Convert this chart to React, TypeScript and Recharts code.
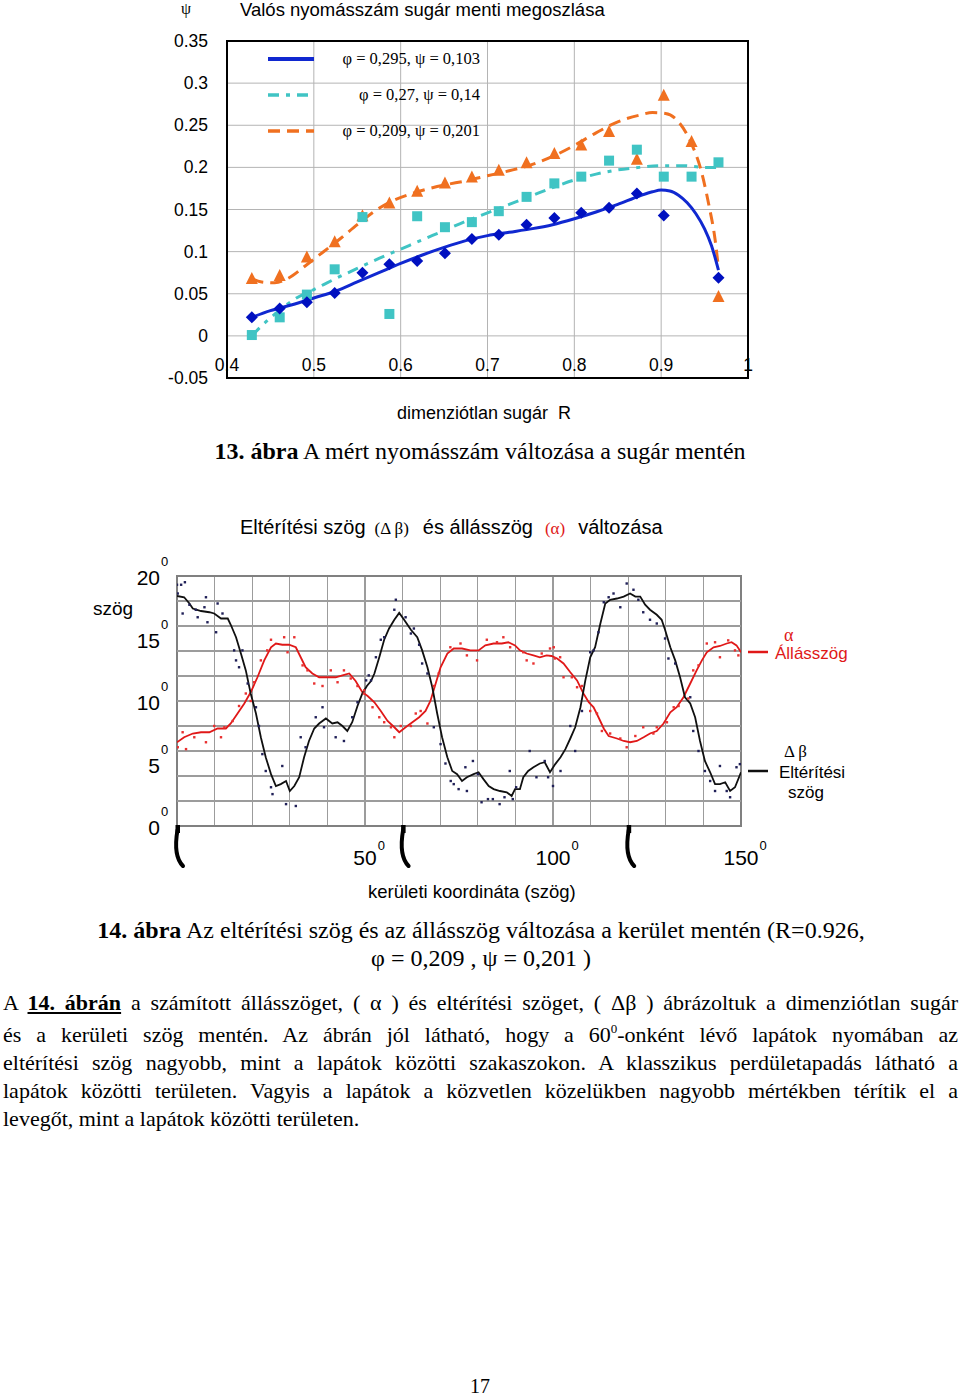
import React from 'react';
import {
  ComposedChart,
  Line,
  Scatter,
  XAxis,
  YAxis,
  CartesianGrid,
  ReferenceArea,
  ReferenceDot,
  ReferenceLine,
} from 'recharts';

const SANS = '"Liberation Sans", Arial, sans-serif';
const SERIF = '"Liberation Serif", "Times New Roman", serif';

// ================= Figure 13 data =================
const radiusPoints = [0.4286, 0.4607, 0.492, 0.524, 0.556, 0.587, 0.619, 0.651, 0.682, 0.713, 0.745, 0.777, 0.808, 0.84, 0.872, 0.903, 0.935, 0.966];
const psiMeasuredBlue = [0.022, 0.0325, 0.04, 0.051, 0.075, 0.085, 0.089, 0.098, 0.115, 0.12, 0.132, 0.14, 0.146, 0.152, 0.169, 0.143, null, 0.069];
const psiMeasuredTeal = [0.001, 0.022, 0.049, 0.079, 0.141, 0.026, 0.142, 0.129, 0.135, 0.148, 0.165, 0.181, 0.189, 0.208, 0.221, 0.189, 0.189, 0.206];
const psiMeasuredOrange = [0.0675, 0.071, 0.093, 0.111, 0.142, 0.157, 0.171, 0.181, 0.188, 0.196, 0.205, 0.216, 0.226, 0.242, 0.209, 0.285, 0.23, 0.046];

const blueTrendR = [0.4286, 0.45, 0.475, 0.5, 0.525, 0.55, 0.575, 0.6, 0.625, 0.65, 0.675, 0.7, 0.725, 0.75, 0.775, 0.8, 0.825, 0.85, 0.875, 0.89, 0.9, 0.91, 0.92, 0.93, 0.94, 0.95, 0.958, 0.966];
const blueTrendPsi = [0.022, 0.03, 0.037, 0.045, 0.053, 0.064, 0.075, 0.086, 0.096, 0.105, 0.113, 0.119, 0.123, 0.127, 0.132, 0.139, 0.147, 0.156, 0.166, 0.171, 0.173, 0.172, 0.167, 0.158, 0.145, 0.127, 0.107, 0.078];

const tealTrendR = [0.4286, 0.44, 0.46, 0.48, 0.5, 0.525, 0.55, 0.575, 0.6, 0.625, 0.65, 0.675, 0.7, 0.725, 0.75, 0.775, 0.8, 0.825, 0.85, 0.875, 0.9, 0.925, 0.95, 0.966];
const tealTrendPsi = [0.0, 0.012, 0.03, 0.045, 0.055, 0.068, 0.08, 0.092, 0.103, 0.114, 0.125, 0.136, 0.146, 0.156, 0.166, 0.176, 0.185, 0.192, 0.197, 0.2, 0.202, 0.202, 0.2, 0.2];

const orangeTrendR = [0.4286, 0.44, 0.455, 0.47, 0.49, 0.51, 0.53, 0.55, 0.57, 0.59, 0.61, 0.63, 0.65, 0.675, 0.7, 0.725, 0.75, 0.775, 0.8, 0.825, 0.85, 0.875, 0.89, 0.905, 0.92, 0.935, 0.945, 0.955, 0.962, 0.966];
const orangeTrendPsi = [0.068, 0.064, 0.063, 0.068, 0.083, 0.099, 0.115, 0.132, 0.148, 0.16, 0.168, 0.174, 0.179, 0.184, 0.19, 0.196, 0.203, 0.213, 0.226, 0.241, 0.254, 0.262, 0.265, 0.264, 0.254, 0.228, 0.2, 0.155, 0.115, 0.08];

const radiusTicks = [0.4, 0.5, 0.6, 0.7, 0.8, 0.9, 1.0];
const radiusTickLabels = ['0.4', '0.5', '0.6', '0.7', '0.8', '0.9', '1'];
const psiTicks = [-0.05, 0, 0.05, 0.1, 0.15, 0.2, 0.25, 0.3, 0.35];
const psiTickLabels = ['-0.05', '0', '0.05', '0.1', '0.15', '0.2', '0.25', '0.3', '0.35'];

const legendLabels13 = ['φ = 0,295, ψ = 0,103', 'φ = 0,27, ψ = 0,14', 'φ = 0,209, ψ = 0,201'];

// ================= Figure 14 data =================
const betaAngles = [0, 1.9, 3.3, 4.2, 6.4, 8.6, 9.9, 11.7, 13.5, 14.3, 15.7, 17, 18.3, 19.6, 21, 22.3, 23.6, 25, 26.3, 27.6, 29, 30, 31.2, 32.5, 33.8, 35.1, 36.5, 37.8, 39.6, 41.3, 42.7, 44, 45.3, 46.6, 48, 49.3, 50.5, 51.6, 52.5, 53.8, 55.1, 56.4, 57.8, 59.1, 60.4, 62.2, 63.9, 65.2, 66.6, 67.9, 69.2, 70.5, 71.9, 73.2, 74.5, 75.8, 77.1, 78.9, 80.2, 81.5, 82.9, 84.2, 85.9, 87.7, 89, 89.9, 91.2, 92.1, 93.4, 94.8, 96.5, 97.8, 99.2, 100.6, 102, 103.3, 104.6, 105.9, 107.3, 108.6, 109.9, 111.2, 112.6, 113.9, 115.2, 117, 118.8, 120.5, 121.9, 123.2, 124.5, 125.8, 127.6, 128.9, 129.8, 131.2, 132.5, 133.8, 135.1, 136.5, 137.8, 139.1, 140.4, 141.8, 143.1, 144.4, 145.8, 147.1, 148.4, 150];
const betaValues = [18.4, 18.3, 17.8, 17.4, 17.2, 17.1, 17.0, 16.6, 16.6, 16.1, 15.1, 13.8, 12.45, 10.6, 9.0, 7.1, 5.5, 4.15, 3.2, 3.35, 3.6, 2.8, 3.2, 3.9, 5.5, 6.8, 7.8, 8.2, 8.6, 8.2, 8.3, 8.0, 7.6, 8.3, 9.6, 10.6, 11.2, 11.6, 12.2, 13.5, 14.9, 15.8, 16.5, 17.05, 16.5, 15.7, 15.1, 14.05, 12.7, 11.1, 9.0, 7.1, 5.5, 4.4, 4.15, 3.6, 3.9, 4.15, 4.3, 3.75, 3.2, 2.95, 2.8, 2.7, 2.4, 2.95, 2.95, 3.9, 4.4, 4.7, 5.0, 5.1, 4.3, 4.95, 5.5, 6.15, 7.0, 7.9, 9.5, 11.65, 13.5, 14.3, 16.2, 17.8, 18.1, 18.2, 18.35, 18.6, 18.35, 18.35, 17.7, 17.3, 16.9, 16.5, 15.7, 14.3, 13.25, 11.9, 10.3, 9.8, 8.7, 6.8, 5.2, 4.3, 3.35, 3.35, 3.5, 2.8, 3.1, 4.3];

const alphaAngles = [0, 1.9, 4.2, 6.4, 8.6, 10.8, 13, 14.3, 16.1, 17.9, 19.6, 21.4, 23.2, 25, 26.3, 28, 29.8, 31.6, 32.9, 34.2, 36, 37.8, 40, 42.2, 44, 45.8, 47.5, 49.3, 50.7, 52.5, 54.2, 56, 57.8, 59.1, 60.8, 62.6, 64.4, 66.1, 67.4, 68.8, 70.1, 71.9, 73.6, 75.8, 78, 80.2, 82, 84.2, 86.4, 88.1, 89.9, 91.2, 93, 94.8, 96.5, 98.3, 99.6, 101.1, 102.8, 104.6, 106.4, 108.1, 109.5, 110.8, 112.1, 113.5, 114.8, 117, 118.8, 120.5, 122.3, 124.1, 125.8, 127.6, 129.4, 131.2, 132.9, 134.7, 136.5, 138.2, 139.6, 140.9, 142.7, 144.4, 146.2, 147.5, 148.8, 150];
const alphaValues = [6.7, 7.1, 7.4, 7.5, 7.5, 7.8, 7.8, 8.2, 9.0, 9.8, 10.7, 11.9, 13.25, 14.3, 14.6, 14.5, 14.5, 14.3, 13.5, 12.7, 12.2, 11.9, 11.9, 11.9, 12.05, 12.2, 11.6, 10.7, 10.4, 9.9, 9.2, 8.4, 7.9, 7.5, 7.9, 8.3, 8.7, 9.2, 10.0, 11.4, 12.7, 13.8, 14.2, 14.2, 14.05, 14.05, 14.45, 14.6, 14.6, 14.7, 14.45, 14.05, 13.8, 13.65, 13.5, 13.65, 13.6, 13.4, 13.0, 12.3, 11.65, 10.6, 9.9, 9.5, 8.7, 7.8, 7.2, 7.0, 6.8, 6.7, 6.8, 7.1, 7.4, 7.6, 8.2, 9.1, 9.5, 10.3, 11.4, 12.45, 13.25, 13.9, 14.3, 14.4, 14.6, 14.7, 14.45, 13.9];

const betaDotAngles = [0, 1.1, 2.1, 0.2, 1.5, 3.3, 5, 7.3, 7.7, 5.5, 8.1, 10.8, 10.4, 12.1, 15.2, 15.7, 17.4, 16.5, 18.8, 21, 21.8, 22.7, 23.6, 25, 25.4, 29, 31.6, 28, 32.9, 34.2, 36.9, 38.7, 39.1, 42.2, 44.4, 46.6, 48, 51, 58.2, 57.8, 55.1, 54.2, 52.9, 51.6, 50.3, 60.8, 62.2, 63, 64.4, 65.2, 66.6, 68.3, 70.1, 71.4, 72.8, 73.6, 74.9, 77.1, 76.7, 78.7, 80, 81, 82.7, 84, 85.8, 87.1, 88.5, 89.3, 90.2, 93.8, 95.6, 97.8, 98.7, 100, 102, 104.6, 105.9, 107.7, 109.9, 110.8, 112.1, 113.5, 114.8, 116.1, 117.9, 119.6, 121.4, 122.7, 124, 125.8, 127.6, 129.8, 130.7, 132.5, 136.5, 137.3, 138.7, 140.4, 141.8, 143.1, 144.4, 146.2, 147.1, 148.8, 149.7];
const betaDotValues = [19.3, 19.3, 19.5, 18.6, 17.0, 17.7, 17.3, 17.5, 18.3, 16.7, 16.3, 17.8, 15.5, 17.0, 14.05, 13.25, 14.05, 12.7, 11.4, 9.5, 8.0, 5.75, 4.4, 3.1, 2.55, 1.75, 1.6, 4.8, 7.1, 6.3, 8.7, 9.5, 7.9, 7.1, 6.8, 8.7, 9.9, 12.05, 18.1, 17.3, 15.1, 14.9, 13.5, 11.65, 11.65, 16.7, 15.4, 15.8, 14.5, 13.0, 12.2, 7.9, 6.55, 5.0, 3.6, 3.35, 2.95, 2.8, 4.7, 5.2, 4.15, 1.9, 2.15, 2.15, 1.75, 2.3, 4.4, 2.15, 3.1, 6.0, 3.9, 5.2, 3.9, 3.2, 4.4, 8.0, 6.0, 9.2, 13.9, 14.05, 15.5, 17.9, 18.3, 18.6, 17.5, 19.4, 18.9, 18.1, 17.1, 16.5, 16.2, 15.0, 13.4, 13.0, 10.3, 7.6, 6.0, 4.4, 3.6, 2.8, 4.8, 2.8, 2.3, 4.7, 4.95];

const alphaDotAngles = [0.2, 2.4, 1.5, 4.6, 7.7, 9.9, 11.7, 12.6, 14.8, 16.5, 18.3, 19.6, 20.5, 22.3, 24, 25, 28.5, 29.4, 31.2, 33.4, 34.7, 36.5, 38.7, 40.9, 42.7, 44.4, 46.2, 48, 49.7, 49.8, 52, 53.8, 55.1, 56.9, 57.8, 59.5, 62.2, 63.5, 64.8, 66.6, 68.3, 69.6, 72.7, 75.4, 77.1, 79.8, 82.4, 85.1, 86.8, 88.6, 92.1, 93, 94.8, 97, 99.2, 100.5, 100.2, 101.9, 102.8, 105, 106.4, 107.7, 109.9, 111.7, 113, 115.2, 117.9, 119.6, 121.9, 124, 126.7, 127.6, 130.3, 132.1, 133.4, 136, 137.3, 138.7, 140.9, 143.1, 144.4, 146.6, 148.4, 149.3];
const alphaDotValues = [6.3, 6.15, 7.5, 7.1, 6.7, 8.0, 7.1, 7.9, 8.4, 9.6, 10.6, 10.0, 11.5, 13.25, 14.05, 14.9, 15.1, 13.9, 15.1, 12.85, 12.45, 11.4, 11.2, 12.45, 11.5, 12.45, 11.8, 11.2, 10.6, 10.85, 9.5, 8.7, 8.3, 7.9, 7.1, 8.0, 8.0, 9.0, 9.2, 8.2, 11.2, 12.2, 14.3, 14.6, 13.65, 13.25, 14.9, 14.7, 15.1, 14.3, 13.9, 13.25, 13.0, 13.8, 14.2, 13.4, 14.3, 13.5, 11.9, 11.9, 11.1, 11.2, 9.2, 9.0, 7.6, 7.4, 7.0, 6.3, 7.2, 7.9, 7.4, 7.9, 8.3, 9.5, 9.6, 10.2, 12.45, 12.85, 14.6, 14.7, 13.5, 14.85, 14.05, 13.65];

const angleGridTicks = [0, 10, 20, 30, 40, 50, 60, 70, 80, 90, 100, 110, 120, 130, 140, 150];
const angleLabelTicks = [50, 100, 150];
const degDomain = [0, 20];
const degGridTicks = [2, 4, 6, 8, 10, 12, 14, 16, 18];
const degLabelTicks = [0, 5, 10, 15, 20];
const bladeAngles = [0, 60, 120];

// ================= helpers =================
const toPoints = (xs: number[], ys: (number | null)[]) =>
  xs.map((x, i) => ({ x, y: ys[i] })).filter((p) => p.y !== null && p.y !== undefined);

const COLORS = {
  blue: '#1028d0',
  blueMark: '#0010c0',
  teal: '#40c4c4',
  orange: '#f07020',
  black: '#101010',
  blackDot: '#202058',
  red: '#e01818',
  redDot: '#e83030',
  grid: '#b4b4b4',
  grid2: '#9c9c9c',
};

const series13 = [
  { label: legendLabels13[0], color: COLORS.blue, dash: undefined as string | undefined },
  { label: legendLabels13[1], color: COLORS.teal, dash: '11 7 4 7' },
  { label: legendLabels13[2], color: COLORS.orange, dash: '12 7' },
];

const DiamondShape = (props: any) => {
  const { cx, cy } = props;
  const s = 6;
  return <polygon points={`${cx},${cy - s} ${cx + s},${cy} ${cx},${cy + s} ${cx - s},${cy}`} fill={COLORS.blueMark} />;
};
const SquareShape = (props: any) => {
  const { cx, cy } = props;
  const s = 5;
  return <rect x={cx - s} y={cy - s} width={2 * s} height={2 * s} fill={COLORS.teal} />;
};
const TriangleShape = (props: any) => {
  const { cx, cy } = props;
  return <polygon points={`${cx},${cy - 7} ${cx + 6},${cy + 5} ${cx - 6},${cy + 5}`} fill={COLORS.orange} />;
};
const dotShape = (color: string) => (props: any) => {
  const { cx, cy } = props;
  return <rect x={cx - 1.2} y={cy - 1.2} width={2.4} height={2.4} fill={color} />;
};

const TopXTick = (props: any) => {
  const { x, y, payload } = props;
  const idx = radiusTicks.indexOf(payload.value);
  return (
    <text x={x} y={y - 7} textAnchor="middle" fontSize={17.5} fontFamily={SANS} fill="#000">
      {idx >= 0 ? radiusTickLabels[idx] : payload.value}
    </text>
  );
};
const TopYTick = (props: any) => {
  const { x, y, payload } = props;
  const idx = psiTicks.findIndex((t) => Math.abs(t - payload.value) < 1e-9);
  return (
    <text x={x} y={y} dy={6} textAnchor="end" fontSize={17.5} fontFamily={SANS} fill="#000">
      {idx >= 0 ? psiTickLabels[idx] : payload.value}
    </text>
  );
};

function Figure13() {
  const blueMeasured = toPoints(radiusPoints, psiMeasuredBlue);
  const tealMeasured = toPoints(radiusPoints, psiMeasuredTeal);
  const orangeMeasured = toPoints(radiusPoints, psiMeasuredOrange);
  const blueTrend = toPoints(blueTrendR, blueTrendPsi);
  const tealTrend = toPoints(tealTrendR, tealTrendPsi);
  const orangeTrend = toPoints(orangeTrendR, orangeTrendPsi);
  return (
    <ComposedChart width={960} height={480} margin={{ top: 41, right: 212, bottom: 72, left: 167 }}>
      <CartesianGrid stroke={COLORS.grid} strokeWidth={1} />
      <XAxis
        type="number"
        dataKey="x"
        domain={[0.4, 1]}
        ticks={radiusTicks}
        allowDataOverflow
        height={30}
        tickSize={0}
        tickMargin={0}
        axisLine={false}
        tick={<TopXTick />}
      />
      <YAxis
        type="number"
        dataKey="y"
        domain={[-0.05, 0.35]}
        ticks={psiTicks}
        allowDataOverflow
        width={60}
        tickSize={0}
        tickMargin={19}
        axisLine={false}
        tick={<TopYTick />}
      />
      <ReferenceArea x1={0.4} x2={1} y1={-0.05} y2={0.35} fill="none" fillOpacity={0} stroke="#000" strokeWidth={2} />
      <Line data={orangeTrend} dataKey="y" type="monotone" stroke={COLORS.orange} strokeWidth={3} strokeDasharray={series13[2].dash} dot={false} isAnimationActive={false} />
      <Line data={tealTrend} dataKey="y" type="monotone" stroke={COLORS.teal} strokeWidth={3} strokeDasharray={series13[1].dash} dot={false} isAnimationActive={false} />
      <Line data={blueTrend} dataKey="y" type="monotone" stroke={COLORS.blue} strokeWidth={3} dot={false} isAnimationActive={false} />
      <Scatter data={orangeMeasured} dataKey="y" shape={TriangleShape} isAnimationActive={false} />
      <Scatter data={tealMeasured} dataKey="y" shape={SquareShape} isAnimationActive={false} />
      <Scatter data={blueMeasured} dataKey="y" shape={DiamondShape} isAnimationActive={false} />
    </ComposedChart>
  );
}

const BottomXTick = (props: any) => {
  const { x, y, payload } = props;
  if (!angleLabelTicks.includes(payload.value)) return <g />;
  return (
    <g>
      <text x={x} y={y + 39} textAnchor="middle" fontSize={21} fontFamily={SANS} fill="#000">
        {payload.value}
      </text>
      <text x={x + (String(payload.value).length * 11.7) / 2 + 1} y={y + 24} fontSize={13} fontFamily={SANS} fill="#000">
        0
      </text>
    </g>
  );
};
const BottomYTick = (props: any) => {
  const { x, y, payload } = props;
  return (
    <g>
      <text x={x} y={y + 9} textAnchor="end" fontSize={21} fontFamily={SANS} fill="#000">
        {payload.value}
      </text>
      <text x={x + 1} y={y - 10} fontSize={13} fontFamily={SANS} fill="#000">
        0
      </text>
    </g>
  );
};
const BladeShape = (props: any) => {
  const { cx, cy } = props;
  return (
    <g>
      <rect x={cx - 1.5} y={cy - 1} width={4.5} height={8} fill="#000" />
      <path d={`M ${cx + 0.5} ${cy + 4} Q ${cx - 4} ${cy + 30} ${cx + 6} ${cy + 40}`} stroke="#000" strokeWidth={4} fill="none" strokeLinecap="round" />
    </g>
  );
};

function Figure14() {
  const betaLine = toPoints(betaAngles, betaValues);
  const alphaLine = toPoints(alphaAngles, alphaValues);
  const betaDots = toPoints(betaDotAngles, betaDotValues);
  const alphaDots = toPoints(alphaDotAngles, alphaDotValues);
  return (
    <ComposedChart width={960} height={430} margin={{ top: 96, right: 219, bottom: 44, left: 117 }}>
      <CartesianGrid stroke={COLORS.grid2} strokeWidth={1.3} horizontal={false} shapeRendering="crispEdges" />
      {degGridTicks.map((v) => (
        <ReferenceLine key={`g${v}`} y={v} stroke={COLORS.grid2} strokeWidth={1.5} shapeRendering="crispEdges" />
      ))}
      <XAxis
        type="number"
        dataKey="x"
        domain={[0, 150]}
        ticks={angleGridTicks}
        allowDataOverflow
        height={40}
        tickSize={0}
        tickMargin={0}
        axisLine={false}
        tick={<BottomXTick />}
      />
      <YAxis
        type="number"
        dataKey="y"
        domain={degDomain}
        ticks={degLabelTicks}
        allowDataOverflow
        width={60}
        tickSize={0}
        tickMargin={17}
        axisLine={false}
        tick={<BottomYTick />}
      />
      <ReferenceArea x1={0} x2={150} y1={0} y2={20} fill="none" fillOpacity={0} stroke="#808080" strokeWidth={2} />
      <Scatter data={betaDots} dataKey="y" shape={dotShape(COLORS.blackDot)} isAnimationActive={false} />
      <Scatter data={alphaDots} dataKey="y" shape={dotShape(COLORS.redDot)} isAnimationActive={false} />
      <Line data={alphaLine} dataKey="y" type="linear" stroke={COLORS.red} strokeWidth={1.8} dot={false} isAnimationActive={false} />
      <Line data={betaLine} dataKey="y" type="linear" stroke={COLORS.black} strokeWidth={1.8} dot={false} isAnimationActive={false} />
      {bladeAngles.map((a) => (
        <ReferenceDot key={a} x={a} y={0} r={0} shape={BladeShape} ifOverflow="visible" />
      ))}
    </ComposedChart>
  );
}

const abs = (left: number, top: number, extra: React.CSSProperties = {}): React.CSSProperties => ({
  position: 'absolute',
  left,
  top,
  whiteSpace: 'nowrap',
  ...extra,
});

const paraLine: React.CSSProperties = {
  position: 'absolute',
  left: 3,
  width: 955,
  fontFamily: SERIF,
  fontSize: 22,
  lineHeight: '24px',
  textAlign: 'justify',
  textAlignLast: 'justify',
  color: '#000',
};

export default function App() {
  return (
    <div style={{ position: 'absolute', left: 0, top: 0, width: 960, height: 1398, background: '#fff', overflow: 'hidden', color: '#000' }}>
      {/* Figure 13 */}
      <div style={abs(0, 0)}>
        <Figure13 />
      </div>
      <div style={abs(181, 1, { fontFamily: SERIF, fontSize: 16, lineHeight: '16px' })}>ψ</div>
      <div style={abs(240, 0, { fontFamily: SANS, fontSize: 18.5, lineHeight: '20px' })}>Valós nyomásszám sugár menti megoszlása</div>
      {/* legend of fig 13 */}
      <div style={abs(262, 41, { width: 222 })}>
        {series13.map((s, i) => (
          <div key={i} style={{ position: 'relative', height: 36, display: 'flex', alignItems: 'center' }}>
            <svg width={50} height={10} style={{ marginLeft: 6 }}>
              <line x1={0} y1={5} x2={46} y2={5} stroke={s.color} strokeWidth={i === 0 ? 4 : 3.5} strokeDasharray={s.dash} />
            </svg>
            <span style={{ position: 'absolute', right: 4, fontFamily: SERIF, fontSize: 16.5 }}>{s.label}</span>
          </div>
        ))}
      </div>
      <div style={abs(397, 403, { fontFamily: SANS, fontSize: 18, lineHeight: '20px', whiteSpace: 'pre' })}>dimenziótlan sugár  R</div>
      <div style={abs(0, 437, { width: 960, textAlign: 'center', fontFamily: SERIF, fontSize: 24, lineHeight: '28px' })}>
        <b>13. ábra</b> A mért nyomásszám változása a sugár mentén
      </div>

      {/* Figure 14 */}
      <div style={abs(0, 480)}>
        <Figure14 />
      </div>
      <div style={abs(240, 514, { fontFamily: SANS, fontSize: 20, lineHeight: '26px' })}>
        Eltérítési szög
        <span style={{ fontFamily: SERIF, fontSize: 17, marginLeft: 9 }}>(Δ β)</span>
        <span style={{ marginLeft: 14 }}>és állásszög</span>
        <span style={{ fontFamily: SERIF, fontSize: 17, color: COLORS.red, marginLeft: 12 }}>(α)</span>
        <span style={{ marginLeft: 13 }}>változása</span>
      </div>
      <div style={abs(93, 597, { fontFamily: SANS, fontSize: 19, lineHeight: '24px' })}>szög</div>
      {/* right legend of fig 14 */}
      <svg style={{ position: 'absolute', left: 746, top: 640 }} width={24} height={150}>
        <line x1={2} y1={12} x2={22} y2={12} stroke={COLORS.red} strokeWidth={2.5} />
        <line x1={2} y1={131} x2={22} y2={131} stroke={COLORS.black} strokeWidth={2.5} />
      </svg>
      <div style={abs(784, 624, { fontFamily: SERIF, fontSize: 18, lineHeight: '22px', color: COLORS.red })}>α</div>
      <div style={abs(775, 643, { fontFamily: SANS, fontSize: 17, lineHeight: '22px', color: COLORS.red })}>Állásszög</div>
      <div style={abs(784, 741, { fontFamily: SERIF, fontSize: 17, lineHeight: '22px' })}>Δ β</div>
      <div style={abs(779, 762, { fontFamily: SANS, fontSize: 17, lineHeight: '22px' })}>Eltérítési</div>
      <div style={abs(788, 782, { fontFamily: SANS, fontSize: 17, lineHeight: '22px' })}>szög</div>
      <div style={abs(368, 880, { fontFamily: SANS, fontSize: 18.5, lineHeight: '24px' })}>kerületi koordináta (szög)</div>

      {/* caption 14 */}
      <div style={abs(0, 916, { width: 962, textAlign: 'center', fontFamily: SERIF, fontSize: 24, lineHeight: '28px' })}>
        <b>14. ábra</b> Az eltérítési szög és az állásszög változása a kerület mentén (R=0.926,
      </div>
      <div style={abs(0, 944, { width: 962, textAlign: 'center', fontFamily: SERIF, fontSize: 24, lineHeight: '28px' })}>
        φ = 0,209 , ψ = 0,201 )
      </div>

      {/* paragraph */}
      <div style={{ ...paraLine, top: 991 }}>
        A <b style={{ textDecoration: 'underline' }}>14. ábrán</b> a számított állásszöget, ( α ) és eltérítési szöget, ( Δβ ) ábrázoltuk a dimenziótlan sugár
      </div>
      <div style={{ ...paraLine, top: 1023 }}>
        és a kerületi szög mentén. Az ábrán jól látható, hogy a 60<span style={{ position: 'relative', top: -9, fontSize: 13 }}>0</span>-onként lévő lapátok nyomában az
      </div>
      <div style={{ ...paraLine, top: 1051 }}>
        eltérítési szög nagyobb, mint a lapátok közötti szakaszokon. A klasszikus perdületapadás látható a
      </div>
      <div style={{ ...paraLine, top: 1079 }}>
        lapátok közötti területen. Vagyis a lapátok a közvetlen közelükben nagyobb mértékben térítik el a
      </div>
      <div style={{ ...paraLine, top: 1107, textAlign: 'left', textAlignLast: 'left' }}>
        levegőt, mint a lapátok közötti területen.
      </div>

      <div style={abs(0, 1374, { width: 960, textAlign: 'center', fontFamily: SERIF, fontSize: 20, lineHeight: '24px' })}>17</div>
    </div>
  );
}
